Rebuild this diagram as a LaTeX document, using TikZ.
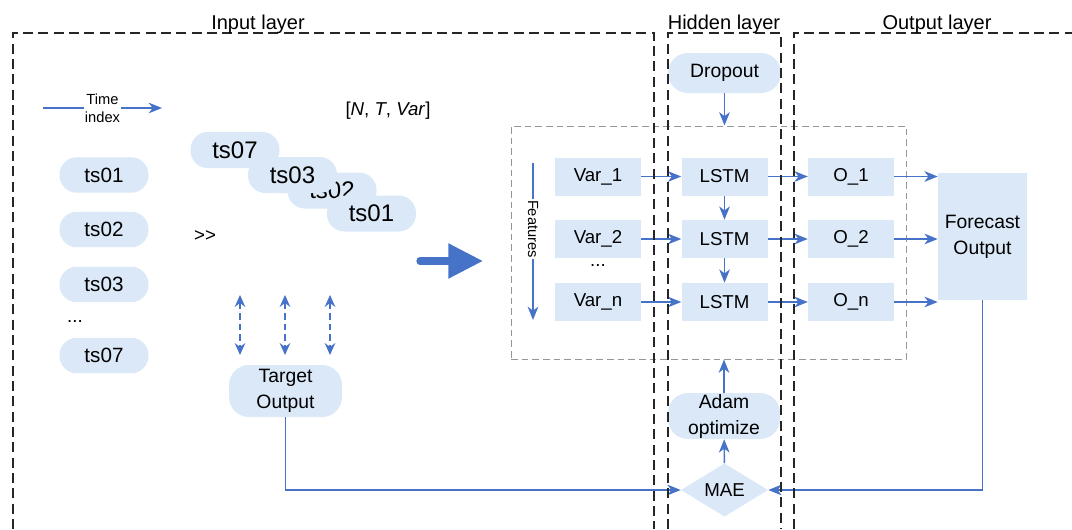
\documentclass[tikz,border=0pt]{standalone}
\usepackage{fontspec}
\setmainfont{Liberation Sans}
\usepackage{xcolor}
\definecolor{PaleBlue}{RGB}{218,232,247}
\definecolor{LineBlue}{RGB}{70,115,200}
\definecolor{FrameGray}{RGB}{150,150,150}
\usetikzlibrary{positioning,arrows.meta,shapes.geometric}

\begin{document}
\begin{tikzpicture}[x=0.75pt, y=-0.75pt,
    pill/.style={rectangle, fill=PaleBlue, rounded corners=13pt,
                 minimum width=66.75pt, minimum height=26.6pt, inner sep=0pt,
                 font=\fontsize{15.5}{18}\selectfont},
    stackpill/.style={pill, minimum height=27pt, font=\fontsize{18}{20}\selectfont},
    bigpill/.style={pill, minimum width=84.75pt, rounded corners=15pt, align=center,
                    font=\fontsize{14.5}{19.5}\selectfont},
    cell/.style={rectangle, fill=PaleBlue, minimum width=64.5pt, minimum height=28.5pt,
                 inner sep=0pt, font=\fontsize{14}{16}\selectfont},
    link/.style={-{Stealth[length=10pt, width=8pt, inset=3pt]}, draw=LineBlue, line width=1.1pt},
    dasharrow/.style={{Stealth[length=9pt, width=8pt, inset=3pt]}-{Stealth[length=9pt, width=8pt, inset=3pt]},
                      draw=LineBlue, line width=1.1pt, dash pattern=on 5pt off 3pt},
    bigarrow/.style={-{Triangle[length=26pt, width=25pt]}, draw=LineBlue, line width=5.5pt, line cap=round},
    gridbox/.style={rectangle, draw=FrameGray, line width=0.75pt, dash pattern=on 5pt off 3pt,
                    minimum width=296.25pt, minimum height=174.75pt, inner sep=0pt},
    layer/.style={draw=black!85, line width=1.1pt, dash pattern=on 7.5pt off 4pt},
    title/.style={anchor=base, font=\fontsize{15}{18}\selectfont},
    plain/.style={font=\fontsize{14}{16}\selectfont}
]
    \useasboundingbox (0,0) rectangle (1072,529);

    % input side
    \coordinate (tA) at (43,108);
    \coordinate (tB) at (162,108);
    \draw[link] (tA) -- node[fill=white, inner sep=1pt, align=center,
        font=\fontsize{11}{13.5}\selectfont] (tidx) {Time\\index} (tB);
    \node[plain] (shape) at (388,111) {[\textit{N}, \textit{T}, \textit{Var}]};

    \foreach \n/\y in {01/175, 02/229.5, 03/284.5, 07/355.5}
        \node[pill] (col\n) at (104,\y) {ts\n};
    \node[plain] (coldots) at (75,321) {...};

    \node[stackpill] (s07) at (235,150) {ts07};
    \node[stackpill] (s02) at (332,190.5) {ts02};
    \node[stackpill] (s03) at (292.5,175) {ts03};
    \node[stackpill] (s01) at (371.5,213.5) {ts01};
    \node[plain] (gg) at (205,236) {>{}>};

    \foreach \n/\x in {a/240, b/285, c/330} {
        \coordinate (up\n) at (\x,295);
        \coordinate (dn\n) at (\x,355);
        \draw[dasharrow] (up\n) -- (dn\n);
    }
    \node[bigpill, minimum height=39pt] (tgt) at (285.5,391) {Target\\Output};

    \coordinate (bigA) at (420,261);
    \coordinate (bigB) at (483,261);
    \draw[bigarrow] (bigA) -- (bigB);

    % network
    \node[gridbox] (grid) at (708.5,242.5) {};
    \coordinate (fA) at (533,163);
    \coordinate (fB) at (533,320);
    \draw[link] (fA) -- node[pos=0.42, rotate=-90, fill=white, inner sep=1pt,
        font=\fontsize{11}{13}\selectfont] (feat) {Features} (fB);

    \node[cell] (v1) at (598,176.5) {Var\_1};
    \node[cell] (v2) at (598,239) {Var\_2};
    \node[cell] (vn) at (598,302) {Var\_n};
    \node[plain] (vdots) at (598,265) {...};
    \node[cell, right=30pt of v1] (l1) {LSTM};
    \node[cell, right=30pt of v2] (l2) {LSTM};
    \node[cell, right=30pt of vn] (ln) {LSTM};
    \node[cell, right=30pt of l1] (o1) {O\_1};
    \node[cell, right=30pt of l2] (o2) {O\_2};
    \node[cell, right=30pt of ln] (on) {O\_n};
    \node[cell, minimum width=66.75pt, minimum height=95.25pt, align=center,
          font=\fontsize{14.5}{19.5}\selectfont] (fc) at (982.5,236.5) {Forecast\\Output};

    \node[bigpill, minimum height=30pt] (drop) at (724.5,73) {Dropout};
    \node[bigpill, minimum width=84pt, minimum height=34.5pt] (adam) at (724,416) {Adam\\optimize};
    \node[diamond, fill=PaleBlue, minimum width=65.25pt, minimum height=39pt, inner sep=0pt,
          font=\fontsize{14}{16}\selectfont] (mae) at (724.5,490) {MAE};

    \foreach \a/\b/\c in {v1/l1/o1, v2/l2/o2, vn/ln/on} {
        \draw[link] (\a) -- (\b);
        \draw[link] (\b) -- (\c);
        \draw[link] (\c) -- (\c -| fc.west);
    }
    \draw[link] (l1) -- (l2);
    \draw[link] (l2) -- (ln);
    \draw[link] (drop) -- (drop |- grid.north);
    \draw[link] (adam) -- (adam |- grid.south);
    \draw[link] (mae) -- (adam);
    \draw[link] (tgt) |- (mae);
    \draw[link] (fc) |- (mae);

    % layers
    \draw[layer] (13,529) -- (13,33) -- (654,33) -- (654,529);
    \draw[layer] (668,529) -- (668,33) -- (781,33) -- (781,529);
    \draw[layer] (794,529) -- (794,33) -- (1072,33);
    \node[title] (tin) at (258,29) {Input layer};
    \node[title] (thid) at (724,29) {Hidden layer};
    \node[title] (tout) at (937,29) {Output layer};
\end{tikzpicture}
\end{document}
